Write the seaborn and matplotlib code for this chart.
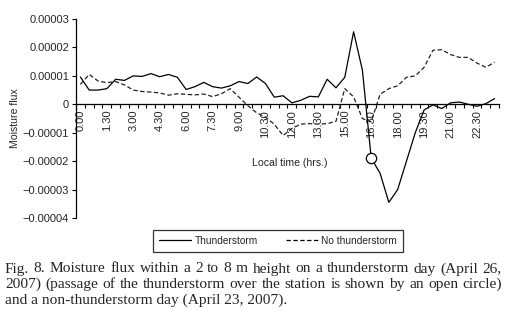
import numpy as np
import pandas as pd
import matplotlib
matplotlib.use("Agg")
import matplotlib.pyplot as plt
import seaborn as sns
from matplotlib.lines import Line2D

# ---- data (moisture flux, units of 1e-5) ----
time_index = list(range(48))  # half-hourly, 0.00 .. 23.30
thunderstorm = [0.96, 0.50, 0.50, 0.55, 0.88, 0.84, 1.00, 0.98, 1.08, 0.97,
                1.05, 0.95, 0.52, 0.62, 0.77, 0.62, 0.57, 0.65, 0.80, 0.73,
                0.96, 0.73, 0.25, 0.30, 0.05, 0.14, 0.28, 0.26, 0.88, 0.58,
                0.95, 2.55, 1.20, -1.90, -2.42, -3.45, -3.00, -2.00, -1.00, -0.20,
                -0.02, -0.15, 0.05, 0.08, 0.00, -0.07, 0.02, 0.20]
no_thunderstorm = [0.70, 1.05, 0.82, 0.76, 0.80, 0.68, 0.50, 0.45, 0.43, 0.40,
                   0.32, 0.37, 0.35, 0.33, 0.36, 0.27, 0.37, 0.55, 0.25, -0.05,
                   -0.30, -0.45, -0.70, -1.10, -0.85, -0.70, -0.68, -0.70, -0.68, -0.60,
                   0.55, 0.26, -0.50, -0.62, 0.35, 0.55, 0.65, 0.95, 1.00, 1.30,
                   1.90, 1.92, 1.75, 1.65, 1.65, 1.45, 1.30, 1.48]
scale = 1e-5
passage_index = 33  # 16.30
tick_positions = list(range(0, 48, 3))
tick_labels = ["0.00", "1.30", "3.00", "4.30", "6.00", "7.30", "9.00", "10.30",
               "12.00", "13.30", "15.00", "16.30", "18.00", "19.30", "21.00", "22.30"]
ytick_values = [-4e-5, -3e-5, -2e-5, -1e-5, 0, 1e-5, 2e-5, 3e-5]
ytick_labels = ["\u22120.00004", "\u22120.00003", "\u22120.00002", "\u22120.00001",
                "0", "0.00001", "0.00002", "0.00003"]
caption_lines = [
    "Fig. 8. Moisture flux within a 2 to 8 m height on a thunderstorm day (April 26,",
    "2007) (passage of the thunderstorm over the station is shown by an open circle)",
    "and a non-thunderstorm day (April 23, 2007).",
]

df = pd.DataFrame({
    "t": time_index * 2,
    "flux": [v * scale for v in thunderstorm] + [v * scale for v in no_thunderstorm],
    "day": ["Thunderstorm"] * 48 + ["No thunderstorm"] * 48,
})

sns.set_style("white")
plt.rcParams["font.family"] = ["Liberation Sans", "DejaVu Sans"]

W, H = 506, 323
fig = plt.figure(figsize=(W / 100, H / 100), dpi=100)
ax = fig.add_axes([76 / W, 1 - 218 / H, (499 - 76) / W, (218 - 19) / H])

sns.lineplot(data=df, x="t", y="flux", hue="day", style="day",
             palette={"Thunderstorm": "black", "No thunderstorm": "#222222"},
             dashes={"Thunderstorm": "", "No thunderstorm": (3.5, 2.0)},
             linewidth=0.9, ax=ax, legend=False)

sns.scatterplot(x=[passage_index], y=[thunderstorm[passage_index] * scale],
                s=55, facecolor="white", edgecolor="black", linewidth=0.9,
                zorder=5, ax=ax, legend=False)

ax.set_xlim(-0.5, 47.5)
ax.set_ylim(-4e-5, 3e-5)

for s in ["top", "right"]:
    ax.spines[s].set_visible(False)
ax.spines["left"].set_color("black")
ax.spines["left"].set_linewidth(0.9)
ax.spines["bottom"].set_position(("data", 0))
ax.spines["bottom"].set_color("black")
ax.spines["bottom"].set_linewidth(0.9)

ax.set_yticks(ytick_values)
ax.set_yticklabels(ytick_labels, fontsize=8)
ax.tick_params(axis="y", direction="out", length=3, width=0.8, color="black",
               left=True, pad=2)

ax.set_xticks(tick_positions)
ax.set_xticklabels(tick_labels, rotation=90, fontsize=8)
ax.set_xticks([k - 0.5 for k in range(49)], minor=True)
ax.tick_params(axis="x", which="major", length=0, pad=4)
ax.tick_params(axis="x", which="minor", direction="out", length=3, width=0.8,
               color="black", bottom=True)
for lab in ax.get_xticklabels():
    lab.set_horizontalalignment("center")
    lab.set_verticalalignment("top")

ax.set_xlabel("")
ax.set_ylabel("Moisture flux", fontsize=7.6, labelpad=2)
ax.text(19.5, -2.06e-5, "Local time (hrs.)", fontsize=7.6, ha="left", va="center")

# legend
handles = [Line2D([0], [0], color="black", lw=0.9),
           Line2D([0], [0], color="black", lw=0.9, linestyle=(0, (3.5, 2.0)))]
leg = fig.legend(handles, ["Thunderstorm", "No thunderstorm"], ncol=2,
                 loc="center", bbox_to_anchor=(278 / W, 1 - 241 / H),
                 fontsize=7.3, frameon=True, fancybox=False, edgecolor="black",
                 handlelength=3.2, handletextpad=0.3, columnspacing=2.8,
                 borderpad=0.55, borderaxespad=0)
leg.get_frame().set_linewidth(0.9)

# caption (justified lines)
fig.canvas.draw()
renderer = fig.canvas.get_renderer()
cap_size = 11.1
x0, x1 = 5, 502
baselines = [272.5, 288.2, 304.0]
for i, (line, yb) in enumerate(zip(caption_lines, baselines)):
    yf = 1 - yb / H
    if i < len(caption_lines) - 1:
        words = line.split(" ")
        widths = []
        for w in words:
            t = fig.text(0, 0, w, fontsize=cap_size, family="Liberation Serif")
            widths.append(t.get_window_extent(renderer).width)
            t.remove()
        gap = (x1 - x0 - sum(widths)) / (len(words) - 1)
        x = x0
        for w, wd in zip(words, widths):
            fig.text(x / W, yf, w, fontsize=cap_size, family="Liberation Serif",
                     ha="left", va="baseline")
            x += wd + gap
    else:
        fig.text(x0 / W, yf, line, fontsize=cap_size, family="Liberation Serif",
                 ha="left", va="baseline")

fig.savefig("out.png", dpi=100)
